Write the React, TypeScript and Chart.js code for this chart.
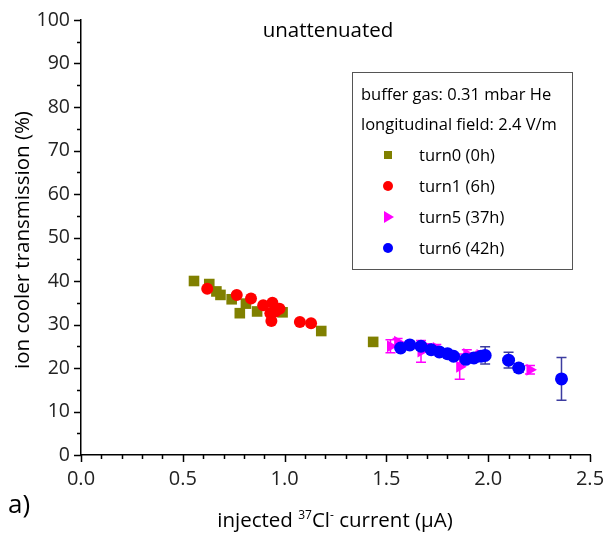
import React, { useEffect, useRef } from "react";
import { Chart, registerables } from "chart.js";

Chart.register(...registerables);

// ---- data ----
const xTickValues = [0, 0.5, 1.0, 1.5, 2.0, 2.5];
const yTickValues = [0, 10, 20, 30, 40, 50, 60, 70, 80, 90, 100];

const turn0X = [0.555, 0.63, 0.665, 0.685, 0.74, 0.78, 0.81, 0.865, 0.99, 1.18, 1.435];
const turn0Y = [40.0, 39.3, 37.6, 36.8, 35.8, 32.6, 34.8, 33.0, 32.8, 28.5, 26.0];

const turn1X = [0.62, 0.765, 0.835, 0.895, 0.94, 0.975, 0.93, 0.935, 0.955, 1.075, 1.13];
const turn1Y = [38.2, 36.8, 36.0, 34.4, 35.0, 33.6, 32.6, 30.8, 33.0, 30.6, 30.3];

const turn5X = [1.52, 1.555, 1.67, 1.70, 1.745, 1.86, 1.895, 1.96, 2.205];
const turn5Y = [25.0, 26.0, 23.8, 24.8, 24.6, 20.3, 23.2, 23.0, 19.6];
const turn5Err = [1.5, 0.8, 2.5, 0.8, 0.8, 2.9, 1.0, 0.8, 1.0];

const turn6X = [1.57, 1.615, 1.67, 1.72, 1.76, 1.80, 1.83, 1.89, 1.93, 1.965, 1.985, 2.10, 2.15, 2.36];
const turn6Y = [24.6, 25.3, 25.0, 24.2, 23.7, 23.3, 22.7, 22.0, 22.3, 22.7, 22.9, 21.8, 20.0, 17.5];
const turn6Err = [0.5, 0.5, 0.8, 0.5, 0.5, 0.5, 0.5, 0.8, 0.8, 1.0, 2.0, 1.8, 1.0, 4.9];

const seriesNames = ["turn0 (0h)", "turn1 (6h)", "turn5 (37h)", "turn6 (42h)"];
const legendHeader = ["buffer gas: 0.31 mbar He", "longitudinal field: 2.4 V/m"];
const chartTitle = "unattenuated";
const yTitle = "ion cooler transmission (%)";
const panelLabel = "a)";

const OLIVE = "#808000";
const RED = "#ff0000";
const MAGENTA = "#ff00ff";
const BLUE = "#0000ff";
const BLUE_BAR = "#3c3ca0";
const FONT = "'Open Sans', sans-serif";

const zip = (xs: number[], ys: number[]) => xs.map((x, i) => ({ x, y: ys[i] }));

const overlay = {
  id: "overlay",
  beforeDatasetsDraw(chart: any) {
    const ctx = chart.ctx;
    const xs = chart.scales.x;
    const ys = chart.scales.y;
    const bars = (X: number[], Y: number[], E: number[], color: string) => {
      ctx.save();
      ctx.strokeStyle = color;
      ctx.lineWidth = 1.5;
      X.forEach((x, i) => {
        const px = xs.getPixelForValue(x);
        const top = ys.getPixelForValue(Y[i] + E[i]);
        const bot = ys.getPixelForValue(Y[i] - E[i]);
        ctx.beginPath();
        ctx.moveTo(px, top);
        ctx.lineTo(px, bot);
        ctx.moveTo(px - 5, top);
        ctx.lineTo(px + 5, top);
        ctx.moveTo(px - 5, bot);
        ctx.lineTo(px + 5, bot);
        ctx.stroke();
      });
      ctx.restore();
    };
    bars(turn5X, turn5Y, turn5Err, MAGENTA);
    bars(turn6X, turn6Y, turn6Err, BLUE_BAR);
  },
  afterDraw(chart: any) {
    const ctx = chart.ctx;
    const xs = chart.scales.x;
    const ys = chart.scales.y;
    const area = chart.chartArea;
    ctx.save();
    // ticks
    ctx.strokeStyle = "#000";
    ctx.lineWidth = 1.5;
    ctx.beginPath();
    for (let i = 0; i <= 25; i++) {
      const v = i / 10;
      const px = Math.round(xs.getPixelForValue(v)) + 0.5;
      const len = i % 5 === 0 ? 7 : 4;
      ctx.moveTo(px, area.bottom);
      ctx.lineTo(px, area.bottom + len);
    }
    for (let i = 0; i <= 20; i++) {
      const v = i * 5;
      const py = Math.round(ys.getPixelForValue(v)) + 0.5;
      const len = i % 2 === 0 ? 7 : 4;
      ctx.moveTo(area.left, py);
      ctx.lineTo(area.left - len, py);
    }
    ctx.stroke();

    ctx.fillStyle = "#000";
    // title
    ctx.font = `20.5px ${FONT}`;
    ctx.textAlign = "center";
    ctx.textBaseline = "middle";
    ctx.fillText(chartTitle, 328, 31);

    // y title
    ctx.save();
    ctx.translate(23, 240);
    ctx.rotate(-Math.PI / 2);
    ctx.font = `20.5px ${FONT}`;
    ctx.fillText(yTitle, 0, 0);
    ctx.restore();

    // panel label
    ctx.font = `26px ${FONT}`;
    ctx.textAlign = "left";
    ctx.fillText(panelLabel, 8, 506);

    // x title with superscripts
    const parts: [string, boolean][] = [
      ["injected ", false],
      ["37", true],
      ["Cl", false],
      ["-", true],
      [" current (\u03bcA)", false],
    ];
    const big = `20.5px ${FONT}`;
    const small = `12px ${FONT}`;
    let total = 0;
    parts.forEach(([t, sup]) => {
      ctx.font = sup ? small : big;
      total += ctx.measureText(t).width;
    });
    let cx = 335 - total / 2;
    ctx.textBaseline = "alphabetic";
    parts.forEach(([t, sup]) => {
      ctx.font = sup ? small : big;
      ctx.fillText(t, cx, sup ? 519 : 527);
      cx += ctx.measureText(t).width;
    });

    // legend box
    ctx.strokeStyle = "#555";
    ctx.lineWidth = 1;
    ctx.strokeRect(352.5, 72.5, 220, 197);
    ctx.font = `16.5px ${FONT}`;
    ctx.textBaseline = "middle";
    ctx.textAlign = "left";
    ctx.fillStyle = "#000";
    ctx.fillText(legendHeader[0], 361, 95);
    ctx.fillText(legendHeader[1], 361, 125);
    const rows = [156, 187, 218, 249];
    const mx = 388;
    rows.forEach((ry, i) => {
      ctx.fillStyle = "#000";
      ctx.fillText(seriesNames[i], 419, ry);
    });
    // markers
    ctx.fillStyle = OLIVE;
    ctx.fillRect(mx - 4, rows[0] - 5, 8, 8);
    ctx.fillStyle = RED;
    ctx.beginPath();
    ctx.arc(mx, rows[1] - 1, 5, 0, Math.PI * 2);
    ctx.fill();
    ctx.fillStyle = MAGENTA;
    ctx.beginPath();
    ctx.moveTo(mx - 4, rows[2] - 7);
    ctx.lineTo(mx + 6, rows[2] - 1);
    ctx.lineTo(mx - 4, rows[2] + 5);
    ctx.closePath();
    ctx.fill();
    ctx.fillStyle = BLUE;
    ctx.beginPath();
    ctx.arc(mx, rows[3] - 1, 5, 0, Math.PI * 2);
    ctx.fill();
    ctx.restore();
  },
};

export default function App() {
  const ref = useRef<HTMLCanvasElement>(null);
  useEffect(() => {
    if (!ref.current) return;
    const chart = new Chart(ref.current, {
      type: "scatter",
      data: {
        datasets: [
          {
            label: seriesNames[0],
            data: zip(turn0X, turn0Y),
            pointStyle: "rect",
            pointRadius: 7.5,
            backgroundColor: OLIVE,
            borderColor: OLIVE,
            borderWidth: 0,
            order: 4,
          },
          {
            label: seriesNames[1],
            data: zip(turn1X, turn1Y),
            pointStyle: "circle",
            pointRadius: 6,
            backgroundColor: RED,
            borderColor: RED,
            borderWidth: 0,
            order: 3,
          },
          {
            label: seriesNames[2],
            data: zip(turn5X, turn5Y),
            pointStyle: "triangle",
            rotation: 90,
            pointRadius: 7,
            backgroundColor: MAGENTA,
            borderColor: MAGENTA,
            borderWidth: 0,
            order: 2,
          },
          {
            label: seriesNames[3],
            data: zip(turn6X, turn6Y),
            pointStyle: "circle",
            pointRadius: 6.5,
            backgroundColor: BLUE,
            borderColor: BLUE,
            borderWidth: 0,
            order: 1,
          },
        ],
      },
      options: {
        animation: false,
        responsive: true,
        maintainAspectRatio: false,
        layout: { padding: { top: 20, right: 17, left: 0, bottom: 0 } },
        plugins: {
          legend: { display: false },
          title: { display: false },
          tooltip: { enabled: false },
        },
        scales: {
          x: {
            type: "linear",
            min: 0,
            max: 2.5,
            afterBuildTicks: (s: any) => {
              s.ticks = xTickValues.map((v) => ({ value: v }));
            },
            afterFit: (s: any) => {
              s.height = 86;
              s.paddingLeft = 0;
              s.paddingRight = 0;
              s.paddingTop = 0;
              s.paddingBottom = 0;
            },
            ticks: {
              callback: (v: any) => Number(v).toFixed(1),
              font: { family: FONT, size: 20 },
              color: "#222",
              padding: 12,
              maxRotation: 0,
            },
            grid: { display: false, drawTicks: false },
            border: { display: true, color: "#000", width: 1.5 },
          },
          y: {
            type: "linear",
            min: 0,
            max: 100,
            afterBuildTicks: (s: any) => {
              s.ticks = yTickValues.map((v) => ({ value: v }));
            },
            afterFit: (s: any) => {
              s.width = 81;
              s.paddingLeft = 0;
              s.paddingRight = 0;
              s.paddingTop = 0;
              s.paddingBottom = 0;
            },
            ticks: {
              font: { family: FONT, size: 19.5 },
              color: "#222",
              padding: 11,
            },
            grid: { display: false, drawTicks: false },
            border: { display: true, color: "#000", width: 1.5 },
          },
        },
      },
      plugins: [overlay],
    });
    return () => chart.destroy();
  }, []);
  return (
    <div style={{ position: "fixed", left: 0, top: 0, width: 607, height: 541, background: "#fff" }}>
      <canvas ref={ref} />
    </div>
  );
}
